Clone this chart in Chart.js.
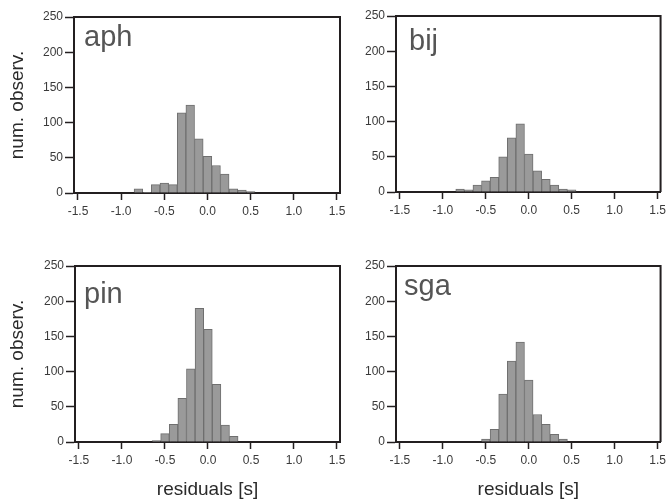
<!DOCTYPE html>
<html>
<head>
<meta charset="utf-8">
<script src="https://cdn.jsdelivr.net/npm/chart.js@4/dist/chart.umd.min.js"></script>
<style>
  html, body { margin: 0; padding: 0; background: #fff; overflow: hidden; }
  #wrap { position: relative; width: 667px; height: 503px; }
  canvas { position: absolute; }
</style>
</head>
<body>
<div id="wrap">
  <canvas id="aph" width="352" height="250" style="left:0px;top:0px"></canvas>
  <canvas id="bij" width="350" height="250" style="left:320px;top:0px"></canvas>
  <canvas id="pin" width="352" height="253" style="left:0px;top:250px"></canvas>
  <canvas id="sga" width="350" height="253" style="left:320px;top:250px"></canvas>
</div>
<script>
// bin centres of the residual histograms (s)
const binCenters = [-0.8, -0.7, -0.6, -0.5, -0.4, -0.3, -0.2, -0.1, 0.0, 0.1, 0.2, 0.3, 0.4, 0.5];

// counts per bin for each station
const aphCounts = [6, 1, 12, 14, 12, 114, 125, 77, 52, 39, 27, 6, 4, 2];
const bijCounts = [4, 3, 10, 16, 21, 50, 77, 97, 54, 30, 18, 10, 4, 3];
const pinCounts = [0, 0, 2, 12, 25, 62, 104, 190, 160, 82, 24, 8, 0, 0];
const sgaCounts = [0, 0, 0, 4, 18, 68, 115, 142, 88, 39, 25, 11, 4, 0];

const xTickValues = [-1.5, -1.0, -0.5, 0.0, 0.5, 1.0, 1.5];
const yTickValues = [0, 50, 100, 150, 200, 250];

const yTitle = 'num. observ.';
const xTitle = 'residuals [s]';

const frameColor = '#231f20';
const font = 'Liberation Sans, Arial, Helvetica, sans-serif';

// top and right edges of the box, plus the station name
const framePlugin = {
    id: 'frame',
    afterDraw(chart, args, opts) {
        const {ctx, chartArea: a} = chart;
        ctx.save();
        ctx.strokeStyle = frameColor;
        ctx.lineWidth = 2;
        ctx.beginPath();
        ctx.moveTo(a.left, a.top);
        ctx.lineTo(a.right, a.top);
        ctx.lineTo(a.right, a.bottom);
        ctx.stroke();
        ctx.fillStyle = '#555';
        ctx.font = '29px ' + font;
        ctx.textBaseline = 'alphabetic';
        ctx.fillText(opts.text, a.left + opts.dx, a.top + opts.dy);
        ctx.restore();
    }
};

function makePanel(id, counts, o) {
    const ctx = document.getElementById(id).getContext('2d');
    return new Chart(ctx, {
        type: 'bar',
        data: {
            datasets: [{
                data: binCenters.map((x, i) => ({x: x, y: counts[i]})),
                backgroundColor: '#9a9a9a',
                borderColor: '#6f6f6f',
                borderWidth: 1,
                barPercentage: 1,
                categoryPercentage: 1
            }]
        },
        options: {
            responsive: false,
            animation: false,
            devicePixelRatio: 1,
            layout: { padding: { left: 0, top: o.top, right: o.right, bottom: 0 } },
            plugins: {
                legend: { display: false },
                tooltip: { enabled: false },
                frame: { text: id, dx: o.dx, dy: o.dy }
            },
            scales: {
                x: {
                    type: 'linear',
                    offset: false,
                    min: -1.546,
                    max: 1.535,
                    afterBuildTicks: s => { s.ticks = xTickValues.map(v => ({value: v})); },
                    afterFit: s => { s.height = o.xh; },
                    ticks: {
                        callback: v => v.toFixed(1),
                        color: '#3a3a3a',
                        font: { family: font, size: 12 },
                        padding: 4,
                        maxRotation: 0
                    },
                    grid: {
                        drawOnChartArea: false,
                        offset: false,
                        tickLength: 7,
                        tickWidth: 1.5,
                        tickColor: frameColor
                    },
                    border: { color: frameColor, width: 2 },
                    title: {
                        display: o.xTitle,
                        text: xTitle,
                        color: '#2a2a2a',
                        font: { family: font, size: 19 },
                        padding: { top: 0, bottom: 2 }
                    }
                },
                y: {
                    min: 0,
                    max: 250,
                    afterBuildTicks: s => { s.ticks = yTickValues.map(v => ({value: v})); },
                    afterFit: s => { s.width = o.yw; },
                    ticks: {
                        color: '#3a3a3a',
                        font: { family: font, size: 12 },
                        padding: 2
                    },
                    grid: {
                        drawOnChartArea: false,
                        tickLength: 9,
                        tickWidth: 1.5,
                        tickColor: frameColor
                    },
                    border: { color: frameColor, width: 2 },
                    title: {
                        display: o.yTitle,
                        text: yTitle,
                        color: '#2a2a2a',
                        font: { family: font, size: 19 },
                        padding: { top: 6, bottom: 0 }
                    }
                }
            }
        },
        plugins: [framePlugin]
    });
}

makePanel('aph', aphCounts, { top: 17, right: 12, yw: 74, xh: 57, dx: 10, dy: 29, yTitle: true, xTitle: false });
makePanel('bij', bijCounts, { top: 16, right: 8, yw: 76, xh: 58, dx: 13, dy: 34, yTitle: false, xTitle: false });
makePanel('pin', pinCounts, { top: 16, right: 12, yw: 75, xh: 61, dx: 9, dy: 37, yTitle: true, xTitle: true });
makePanel('sga', sgaCounts, { top: 16, right: 8, yw: 76, xh: 61, dx: 8, dy: 29, yTitle: false, xTitle: true });
</script>
</body>
</html>
